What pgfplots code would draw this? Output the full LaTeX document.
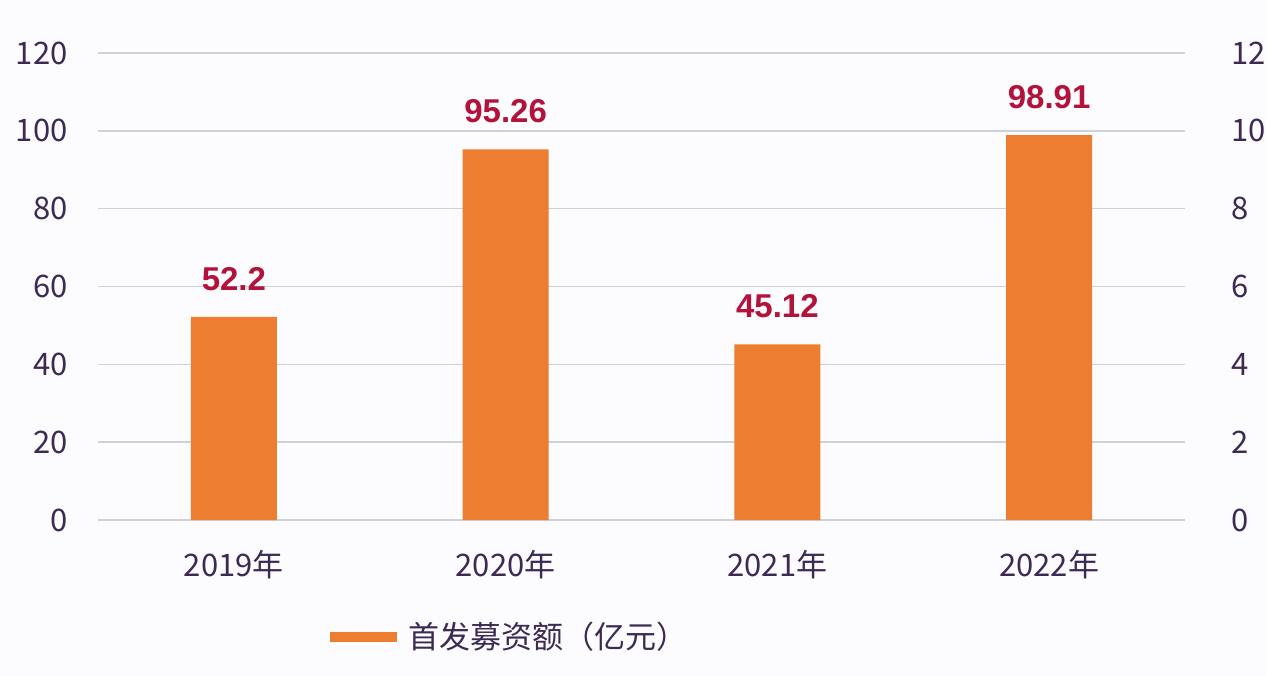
\documentclass[border=0pt]{standalone}
\usepackage{pgfplots}
\pgfplotsset{compat=1.18}
\usepackage{fontspec}
\setmainfont{Noto Sans CJK SC}
\newfontfamily\labelfont{Liberation Sans}
\definecolor{barorange}{HTML}{ED7D31}
\definecolor{txtpurple}{HTML}{3C2A52}
\definecolor{valred}{HTML}{B3123A}
\definecolor{gridgray}{HTML}{CDD2DA}
\definecolor{bgcol}{HTML}{FCFCFE}

\begin{document}
\begin{tikzpicture}
% page frame: 1266x676 px at 0.5bp per px
\useasboundingbox (-49bp,-78bp) rectangle (584bp,260bp);
\fill[bgcol] (-49bp,-78bp) rectangle (584bp,260bp);

\begin{axis}[
  scale only axis,
  width=543.5bp, height=233.5bp,
  ybar, bar width=43bp,
  xmin=-0.5, xmax=3.5,
  ymin=0, ymax=120,
  ytick={0,20,...,120},
  xtick={0,1,2,3},
  xticklabels={2019年,2020年,2021年,2022年},
  axis line style={draw=none},
  axis y line*=left,
  axis x line*=bottom,
  major tick length=0pt,
  ymajorgrids,
  grid style={gridgray, line width=0.75bp},
  /pgf/number format/assume math mode=true,
  tick label style={font=\fontsize{15.5bp}{18bp}\selectfont, text=txtpurple},
  yticklabel style={anchor=east, inner sep=0pt, xshift=-15bp},
  xticklabel style={anchor=north, inner sep=0pt, yshift=-15bp},
  nodes near coords,
  point meta=explicit symbolic,
  every node near coord/.append style={
    font=\fontsize{16.5bp}{19bp}\labelfont\bfseries,
    text=valred, anchor=south, inner sep=0pt, yshift=13bp},
  legend style={at={(0.2088,0)}, anchor=west, yshift=-58.5bp,
    draw=none, fill=none, inner sep=0pt,
    font=\fontsize{15.5bp}{18bp}\selectfont, text=txtpurple,
    nodes={inner sep=0pt}, column sep=3bp},
  legend image code/.code={
    \draw[barorange, line width=5bp] (0bp,0bp) -- (33.5bp,0bp);},
]
\addplot[fill=barorange, draw=none] coordinates {
  (0,52.2) [52.2]
  (1,95.26) [95.26]
  (2,45.12) [45.12]
  (3,98.91) [98.91]
};
\addlegendentry{首发募资额（亿元）}
\end{axis}

\begin{axis}[
  scale only axis,
  width=543.5bp, height=233.5bp,
  xmin=-0.5, xmax=3.5,
  ymin=0, ymax=12,
  ytick={0,2,...,12},
  axis y line*=right,
  axis line style={draw=none},
  hide x axis,
  major tick length=0pt,
  /pgf/number format/assume math mode=true,
  tick label style={font=\fontsize{15.5bp}{18bp}\selectfont, text=txtpurple},
  yticklabel style={anchor=west, inner sep=0pt, xshift=23bp},
]
\addplot[draw=none] coordinates {(0,0)};
\end{axis}
\end{tikzpicture}
\end{document}
